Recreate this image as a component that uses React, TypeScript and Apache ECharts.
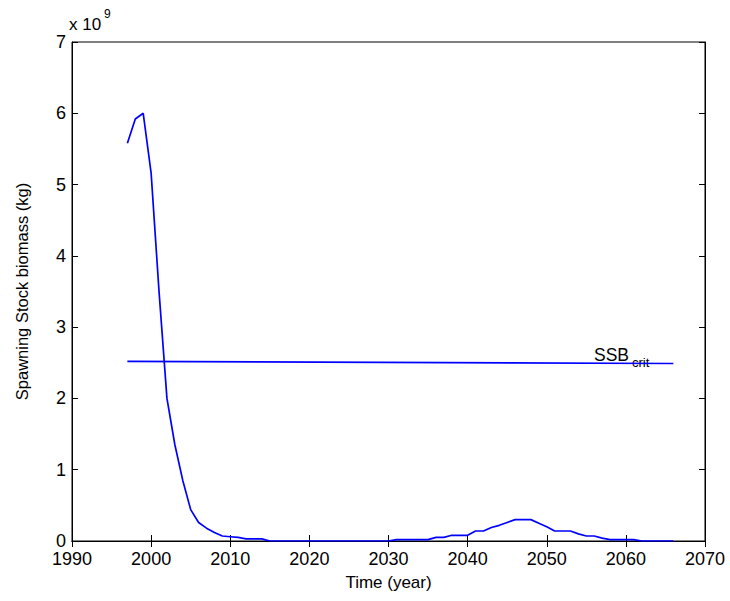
import React, { useEffect, useRef } from "react";
import * as echarts from "echarts";

// Years and spawning stock biomass (units of 10^9 kg)
const years: number[] = [
  1997, 1998, 1999, 2000, 2001, 2002, 2003, 2004, 2005, 2006, 2007, 2008, 2009, 2010,
  2011, 2012, 2013, 2014, 2015, 2016, 2017, 2018, 2019, 2020, 2021, 2022, 2023, 2024,
  2025, 2026, 2027, 2028, 2029, 2030, 2031, 2032, 2033, 2034, 2035, 2036, 2037, 2038,
  2039, 2040, 2041, 2042, 2043, 2044, 2045, 2046, 2047, 2048, 2049, 2050, 2051, 2052,
  2053, 2054, 2055, 2056, 2057, 2058, 2059, 2060, 2061, 2062, 2063, 2064, 2065, 2066,
];
const ssb: number[] = [
  5.58, 5.92, 6.0, 5.16, 3.5, 2.0, 1.35, 0.85, 0.44, 0.26, 0.18, 0.12, 0.07, 0.06,
  0.05, 0.03, 0.03, 0.03, 0.0, 0.0, 0.0, 0.0, 0.0, 0.0, 0.0, 0.0, 0.0, 0.0,
  0.0, 0.0, 0.0, 0.0, 0.0, 0.0, 0.02, 0.02, 0.02, 0.02, 0.02, 0.05, 0.05, 0.08,
  0.08, 0.08, 0.14, 0.14, 0.19, 0.22, 0.26, 0.3, 0.3, 0.3, 0.25, 0.2, 0.14, 0.14,
  0.14, 0.1, 0.07, 0.07, 0.04, 0.02, 0.02, 0.02, 0.02, 0.0, 0.0, 0.0, 0.0, 0.0,
];
const critYears: number[] = [1997, 2066];
const critValues: number[] = [2.52, 2.49];

const FONT = "'Liberation Sans', Arial, Helvetica, sans-serif";

export default function App() {
  const ref = useRef<HTMLDivElement>(null);
  useEffect(() => {
    if (!ref.current) return;
    const chart = echarts.init(ref.current, undefined, { renderer: "svg" });
    const tickStyle = { inside: true, length: 6, lineStyle: { color: "#000", width: 1 } };
    chart.setOption({
      animation: false,
      backgroundColor: "#fff",
      textStyle: { fontFamily: FONT },
      grid: {
        left: 72, right: 25, top: 42, bottom: 60,
        show: true, borderColor: "#000", borderWidth: 1, backgroundColor: "transparent",
      },
      xAxis: [
        {
          type: "value", min: 1990, max: 2070, interval: 10,
          name: "Time (year)", nameLocation: "middle", nameGap: 33,
          nameTextStyle: { color: "#000", fontSize: 17, fontFamily: FONT },
          axisLine: { lineStyle: { color: "#000", width: 1 } },
          axisTick: tickStyle,
          axisLabel: { color: "#000", fontSize: 18, fontFamily: FONT, margin: 11, lineHeight: 14, formatter: (v: number) => String(v) },
          splitLine: { show: false },
        },
        {
          type: "value", position: "top", min: 1990, max: 2070, interval: 10,
          axisLine: { lineStyle: { color: "#000", width: 1 } },
          axisTick: tickStyle, axisLabel: { show: false }, splitLine: { show: false },
        },
      ],
      yAxis: [
        {
          type: "value", min: 0, max: 7, interval: 1,
          name: "Spawning Stock biomass (kg)", nameLocation: "middle", nameGap: 42,
          nameTextStyle: { color: "#000", fontSize: 16.5, fontFamily: FONT },
          axisLine: { lineStyle: { color: "#000", width: 1 } },
          axisTick: tickStyle,
          axisLabel: { color: "#000", fontSize: 18, fontFamily: FONT, margin: 6, lineHeight: 12, formatter: (v: number) => String(v) },
          splitLine: { show: false },
        },
        {
          type: "value", position: "right", min: 0, max: 7, interval: 1,
          axisLine: { lineStyle: { color: "#000", width: 1 } },
          axisTick: tickStyle, axisLabel: { show: false }, splitLine: { show: false },
        },
      ],
      graphic: [
        { type: "text", left: 69, top: 16, style: { text: "x 10", fontSize: 17, fontFamily: FONT, fill: "#000" } },
        { type: "text", left: 104, top: 8, style: { text: "9", fontSize: 12, fontFamily: FONT, fill: "#000" } },
        { type: "text", left: 594, top: 346, style: { text: "SSB", fontSize: 17.5, fontFamily: FONT, fill: "#000" } },
        { type: "text", left: 632, top: 356, style: { text: "crit", fontSize: 13, fontFamily: FONT, fill: "#000" } },
      ],
      series: [
        {
          type: "line", xAxisIndex: 0, yAxisIndex: 0,
          data: years.map((y, i) => [y, ssb[i]]),
          showSymbol: false, symbol: "none",
          lineStyle: { color: "#0000ff", width: 1.7 },
          z: 3,
        },
        {
          type: "line", xAxisIndex: 0, yAxisIndex: 0,
          data: critYears.map((y, i) => [y, critValues[i]]),
          showSymbol: false, symbol: "none",
          lineStyle: { color: "#0000ff", width: 1.7 },
          z: 2,
        },
      ],
    });
    return () => chart.dispose();
  }, []);
  return <div ref={ref} style={{ width: 730, height: 601, position: "absolute", left: 0, top: 0 }} />;
}
